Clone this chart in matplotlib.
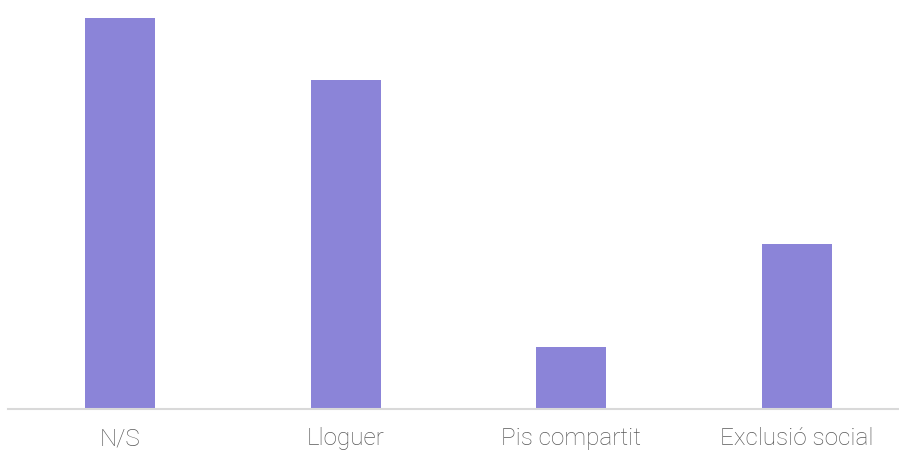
import matplotlib.pyplot as plt

            #### DATA ####
categories = ['N/S', 'Lloguer', 'Pis compartit', 'Exclusió social']
values = [19, 16, 3, 8]

            #### PLOT ####
fig = plt.figure(figsize=(8.99, 4.54), dpi=100)
ax = fig.add_axes([8/899, 1 - 409/454, 1 - 8/899, (409 - 18)/454])

x = range(len(categories))
ax.bar(x, values, width=0.31, color='#8B84D8', zorder=2)

ax.set_xlim(-0.496, 3.452)
ax.set_ylim(0, 19)
ax.set_yticks([])
ax.set_xticks(list(x))
ax.set_xticklabels(categories, fontsize=17.5, color='#595959',
                   family='Roboto', fontweight='light')
ax.tick_params(axis='x', length=0, pad=13)

for side in ['top', 'right', 'left']:
    ax.spines[side].set_visible(False)
ax.spines['bottom'].set_color('#D9D9D9')
ax.spines['bottom'].set_linewidth(1.5)

fig.savefig('out.png', dpi=100)
